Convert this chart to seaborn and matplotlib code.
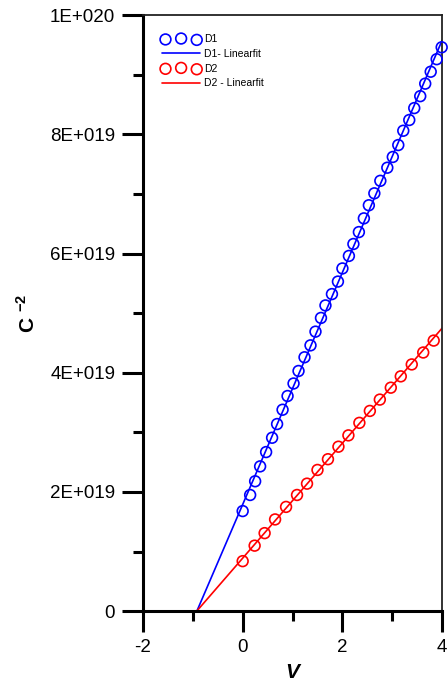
import matplotlib
matplotlib.use("Agg")
import numpy as np
import pandas as pd
import seaborn as sns
import matplotlib.pyplot as plt
from matplotlib.ticker import MultipleLocator, FuncFormatter

# D1 measured points: bias V and C^-2
d1_v = [0.0, 0.15, 0.25, 0.35, 0.47, 0.59, 0.69, 0.80, 0.90, 1.02, 1.12, 1.24,
        1.36, 1.46, 1.57, 1.66, 1.79, 1.91, 2.00, 2.13, 2.22, 2.33, 2.43, 2.53,
        2.64, 2.76, 2.90, 3.01, 3.12, 3.22, 3.34, 3.44, 3.56, 3.66, 3.77, 3.89, 3.99]
d1_c = [16.8, 19.5, 21.8, 24.3, 26.7, 29.1, 31.4, 33.8, 36.1, 38.2, 40.3, 42.6,
        44.6, 46.9, 49.2, 51.3, 53.2, 55.3, 57.5, 59.6, 61.6, 63.6, 65.9, 68.1,
        70.1, 72.2, 74.4, 76.2, 78.2, 80.6, 82.4, 84.4, 86.4, 88.5, 90.5, 92.6, 94.6]

# D2 measured points
d2_v = [0.0, 0.24, 0.44, 0.65, 0.87, 1.09, 1.29, 1.50, 1.71, 1.92, 2.12, 2.34,
        2.55, 2.75, 2.97, 3.17, 3.39, 3.62, 3.83]
d2_c = [8.4, 11.0, 13.1, 15.4, 17.5, 19.5, 21.4, 23.7, 25.5, 27.6, 29.5, 31.6,
        33.6, 35.5, 37.5, 39.4, 41.4, 43.4, 45.4]

# linear fits (slope, intercept), in units of 1E18
d1_fit = (19.47, 17.9)
d2_fit = (9.65, 8.9)
v_max = 4.0

labels = ["D1", "D1- Linearfit", "D2", "D2 - Linearfit"]
colors = ["#0000FF", "#FF0000"]

scale = 1e18
df1 = pd.DataFrame({"V": d1_v, "C": np.array(d1_c) * scale})
df2 = pd.DataFrame({"V": d2_v, "C": np.array(d2_c) * scale})

def fit_frame(fit):
    m, b = fit
    v = np.array([-b / m, v_max])
    return pd.DataFrame({"V": v, "C": (m * v + b) * scale})

sns.set_style("ticks")
plt.rcParams["font.family"] = ["Liberation Sans", "DejaVu Sans"]
plt.rcParams["mathtext.fontset"] = "custom"
plt.rcParams["mathtext.rm"] = "Liberation Sans"
plt.rcParams["mathtext.bf"] = "Liberation Sans:bold"
plt.rcParams["axes.unicode_minus"] = False
plt.rcParams["text.color"] = "black"
plt.rcParams["axes.labelcolor"] = "black"
plt.rcParams["xtick.color"] = "black"
plt.rcParams["ytick.color"] = "black"

fig = plt.figure(figsize=(4.48, 6.86), dpi=100)
ax = fig.add_axes([0.319, 0.109, 0.668, 0.869])

h = []
for df, fit, col, lab_pts, lab_fit in [(df1, d1_fit, colors[0], labels[0], labels[1]),
                                       (df2, d2_fit, colors[1], labels[2], labels[3])]:
    sns.scatterplot(data=df, x="V", y="C", ax=ax, marker="o", s=60,
                    facecolors="none", edgecolor=col, linewidth=1.2,
                    label=lab_pts, clip_on=False, zorder=3)
    h.append(ax.collections[-1])
    sns.lineplot(data=fit_frame(fit), x="V", y="C", ax=ax, color=col,
                 linewidth=1.2, label=lab_fit, zorder=2)
    h.append(ax.lines[-1])

ax.set_xlim(-2, 4)
ax.set_ylim(0, 1e20)
ax.xaxis.set_major_locator(MultipleLocator(2))
ax.xaxis.set_minor_locator(MultipleLocator(1))
ax.yaxis.set_major_locator(MultipleLocator(2e19))
ax.yaxis.set_minor_locator(MultipleLocator(1e19))

def sci(y, pos):
    if y <= 0:
        return "0" if y == 0 else ""
    e = int(np.floor(np.log10(y) + 1e-9))
    return "%dE+%03d" % (round(y / 10 ** e), e)

ax.yaxis.set_major_formatter(FuncFormatter(sci))
ax.tick_params(which="major", direction="out", length=15, width=2.2,
               labelsize=13.5, pad=5, color="black", labelcolor="black")
ax.tick_params(which="minor", direction="out", length=7.5, width=2.2, color="black")

for s in ["left", "bottom"]:
    ax.spines[s].set_linewidth(2.2)
    ax.spines[s].set_color("black")
for s in ["top", "right"]:
    ax.spines[s].set_visible(True)
    ax.spines[s].set_linewidth(1.3)
    ax.spines[s].set_color("#222222")

ax.set_xlabel("V", fontsize=15, fontweight="bold", fontstyle="italic", labelpad=5)
ax.set_ylabel(r"C $^{\mathbf{-2}}$", fontsize=15, fontweight="bold", labelpad=8)

ax.legend(h, labels, loc="upper left", bbox_to_anchor=(0.065, 0.968),
          frameon=False, fontsize=7.5, scatterpoints=3, handlelength=3.6,
          handletextpad=0.4, labelspacing=0.45, borderpad=0, borderaxespad=0)

fig.savefig("out.png", dpi=100)
